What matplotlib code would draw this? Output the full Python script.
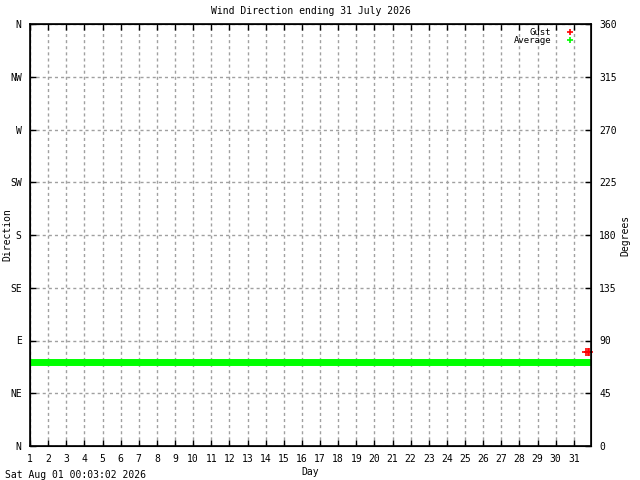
import matplotlib
matplotlib.use('Agg')
from matplotlib import pyplot as plt

days = list(range(1, 32))
dir_ticks = [0, 45, 90, 135, 180, 225, 270, 315, 360]
dir_labels = ['N', 'NE', 'E', 'SE', 'S', 'SW', 'W', 'NW', 'N']

# average direction (flat through the month)
avg_day = [1.0, 31.95]
avg_deg = [72, 72]

# gust readings at the very end of the period
gust_day = [31.70, 31.78, 31.84]
gust_deg = [80, 80, 80]

plt.rcParams['font.family'] = 'DejaVu Sans Mono'
plt.rcParams['font.size'] = 7

fig = plt.figure(figsize=(6.4, 4.8), dpi=100)
ax = fig.add_axes([30/640, 34/480, 561/640, 422/480])

ax.plot(avg_day, avg_deg, color='#00ff00', lw=5, solid_capstyle='butt', clip_on=False)
ax.plot(gust_day, gust_deg, ls='none', marker='+', ms=6, mew=1.2, color='red', clip_on=False)

ax.set_xlim(1, 31.95)
ax.set_ylim(0, 360)
ax.set_xticks(days)
ax.set_yticks(dir_ticks)
ax.set_yticklabels(dir_labels)
ax.tick_params(axis='both', direction='in', length=4, width=1, top=True, right=False, pad=6)
ax.grid(True, ls=(0, (2.2, 2.2)), color='#a0a0a0', lw=1)
for s in ax.spines.values():
    s.set_linewidth(1.2)

ax2 = ax.twinx()
ax2.set_ylim(0, 360)
ax2.set_yticks(dir_ticks)
ax2.tick_params(axis='y', direction='in', length=4, width=1, pad=6)

ax.set_title('Wind Direction ending 31 July 2026', fontsize=7, pad=7)
ax.set_xlabel('Day', labelpad=2)
ax.set_ylabel('Direction', va='center')
ax.yaxis.set_label_coords(-0.041, 0.5)
ax2.set_ylabel('Degrees', va='center')
ax2.yaxis.set_label_coords(1.062, 0.5)

# legend, gnuplot style
ax.text(0.929, 0.981, 'Gust', transform=ax.transAxes, ha='right', va='center', fontsize=6.5)
ax.plot([0.962], [0.981], transform=ax.transAxes, marker='+', color='red', ms=5, mew=1.2)
ax.text(0.929, 0.962, 'Average', transform=ax.transAxes, ha='right', va='center', fontsize=6.5)
ax.plot([0.962], [0.962], transform=ax.transAxes, marker='+', color='#00ff00', ms=5, mew=1.2)

fig.text(5/640, 1 - 475/480, 'Sat Aug 01 00:03:02 2026', ha='left', va='center')

fig.savefig('out.png', dpi=100)
